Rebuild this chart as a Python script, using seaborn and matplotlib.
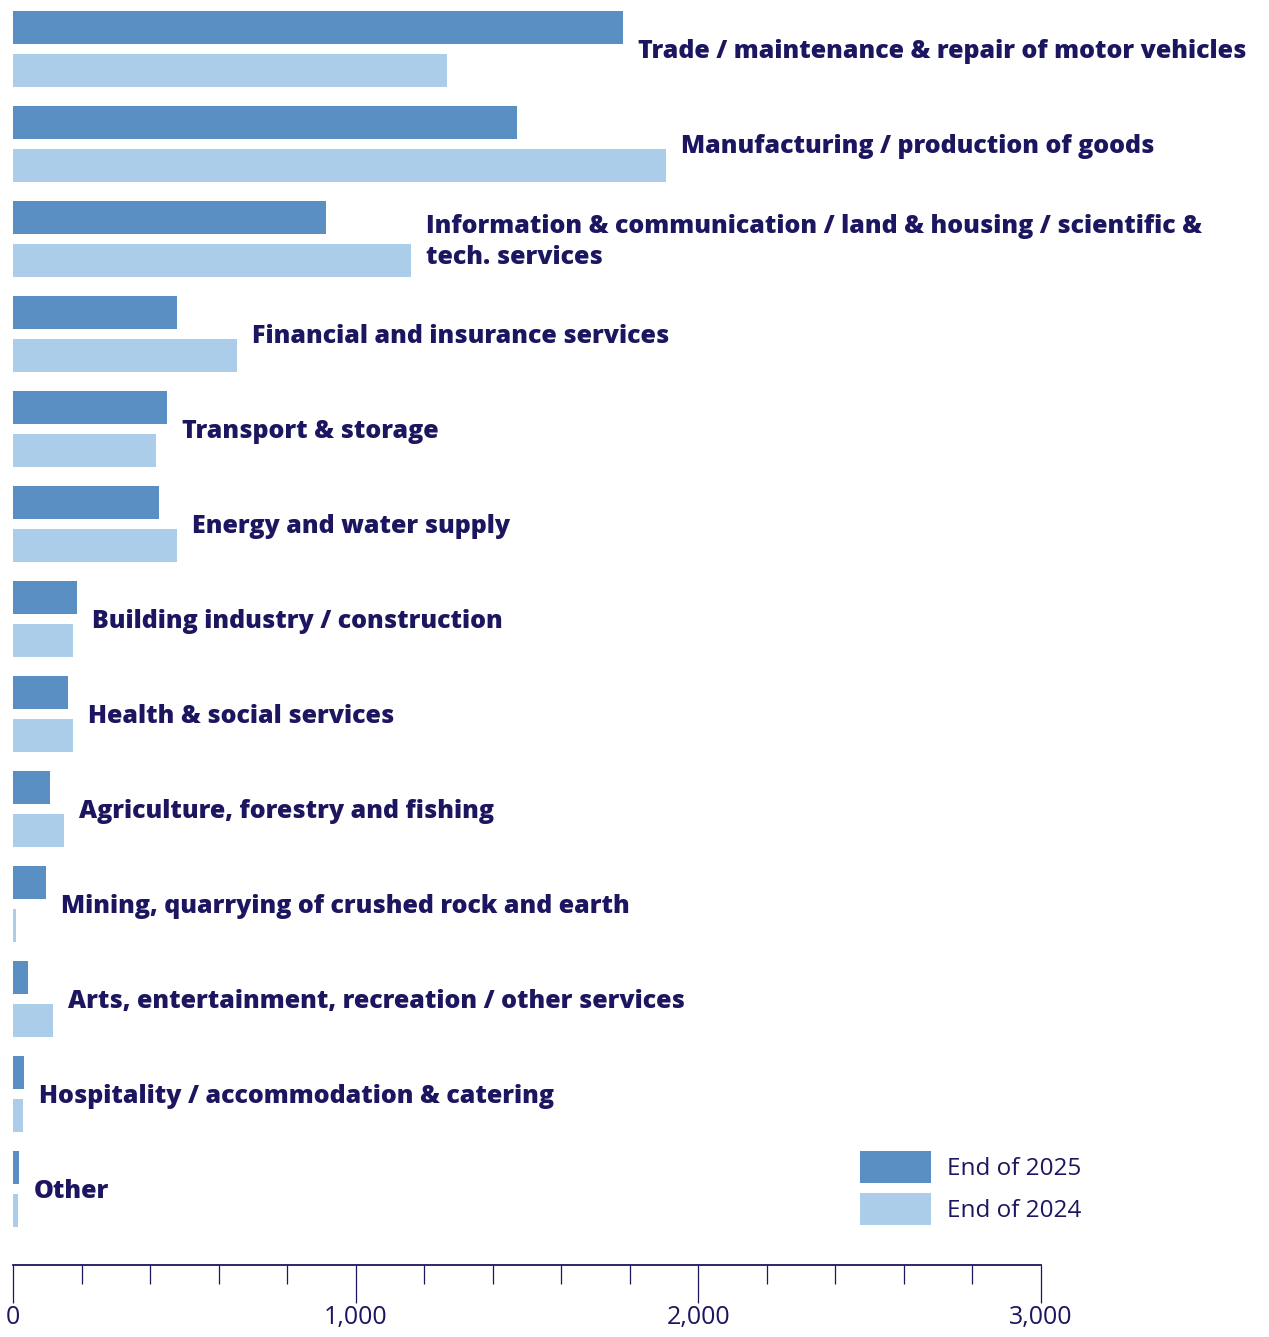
import matplotlib
matplotlib.use("Agg")
import matplotlib.pyplot as plt
import seaborn as sns
import pandas as pd

sectors = [
    "Trade / maintenance & repair of motor vehicles",
    "Manufacturing / production of goods",
    "Information & communication / land & housing / scientific &\ntech. services",
    "Financial and insurance services",
    "Transport & storage",
    "Energy and water supply",
    "Building industry / construction",
    "Health & social services",
    "Agriculture, forestry and fishing",
    "Mining, quarrying of crushed rock and earth",
    "Arts, entertainment, recreation / other services",
    "Hospitality / accommodation & catering",
    "Other",
]
end_2025 = [1780, 1471, 913, 479, 449, 426, 187, 160, 108, 96, 44, 32, 17]
end_2024 = [1267, 1906, 1161, 654, 417, 479, 175, 175, 149, 9, 117, 29, 15]
years = ["End of 2025", "End of 2024"]
colors = ["#5a8fc4", "#abcde9"]
navy = "#1c1660"

df = pd.DataFrame({
    "sector": sectors * 2,
    "value": end_2025 + end_2024,
    "year": [years[0]] * len(sectors) + [years[1]] * len(sectors),
})

sns.set_style("white")
plt.rcParams["font.family"] = ["Open Sans", "DejaVu Sans"]

W, H = 1269, 1337
fig = plt.figure(figsize=(W / 100, H / 100), dpi=100)
ax = fig.add_axes([13 / W, (H - 1265) / H, (1041 - 13) / W, 1265 / H])

sns.barplot(data=df, y="sector", x="value", hue="year", hue_order=years,
            palette=colors, orient="h", width=0.9, gap=0.23, saturation=1,
            linewidth=0, ax=ax)

ax.set_xlim(0, 3000)
ax.set_ylim(12.8, -0.516)
ax.set_xlabel("")
ax.set_ylabel("")
ax.set_yticks([])

for s in ["left", "top", "right"]:
    ax.spines[s].set_visible(False)
ax.spines["bottom"].set_color(navy)
ax.spines["bottom"].set_linewidth(1.3)

ax.set_xticks([0, 1000, 2000, 3000])
ax.set_xticklabels(["0", "1,000", "2,000", "3,000"])
ax.set_xticks(range(0, 3001, 200), minor=True)
ax.tick_params(axis="x", which="major", length=27, width=0.9, color=navy,
               labelcolor=navy, labelsize=18, pad=2, direction="out")
ax.tick_params(axis="x", which="minor", length=13.5, width=0.9, color=navy,
               direction="out")
ax.xaxis.set_ticks_position("bottom")

# Sector names to the right of each pair of bars
for i, name in enumerate(sectors):
    xmax = max(end_2025[i], end_2024[i])
    ax.annotate(name, (xmax, i), xytext=(10.8, -2), textcoords="offset points",
                ha="left", va="center", fontsize=18, fontweight=800,
                color=navy, annotation_clip=False, linespacing=1.3)

fs = 17.5
px = fs * 100 / 72
leg = ax.legend(loc="upper left", bbox_to_anchor=((860 - 13) / 1028, (1265 - 1151) / 1265),
                frameon=False, fontsize=fs, handlelength=71 / px, handleheight=40 / px,
                labelspacing=10 / px, handletextpad=16 / px, borderpad=0, borderaxespad=0)
for t in leg.get_texts():
    t.set_color(navy)

fig.savefig("out.png", dpi=100)
